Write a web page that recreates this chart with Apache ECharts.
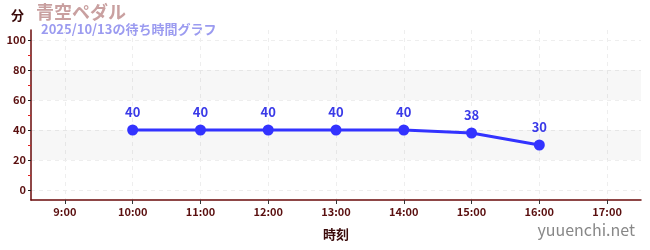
<!DOCTYPE html>
<html><head><meta charset="utf-8">
<script src="https://cdn.jsdelivr.net/npm/echarts@6/dist/echarts.min.js"></script>
<style>html,body{margin:0;padding:0;background:#fff}#c{width:650px;height:250px}</style>
</head><body><div id="c"></div>
<script>
const title = '青空ペダル';
const subtitle = '2025/10/13の待ち時間グラフ';
const hours = [10, 11, 12, 13, 14, 15, 16];
const waits = [40, 40, 40, 40, 40, 38, 30];
const xTicks = [9, 10, 11, 12, 13, 14, 15, 16, 17];
const yTicks = [0, 20, 40, 60, 80, 100];
const yMinorTicks = [10, 30, 50, 70, 90];
const bands = [[20, 40], [60, 80]];
const yName = '分';
const xName = '時刻';
const credit = 'yuuenchi.net';

const font = '"Noto Sans CJK JP","Noto Sans",sans-serif';
const axisColor = '#5a0f0f';
const chart = echarts.init(document.getElementById('c'));
chart.setOption({
  animation: false,
  textStyle: {fontFamily: font},
  grid: {left: 31, right: 9, top: 30, bottom: 50},
  graphic: [
    {type: 'text', left: 11, top: 9, style: {text: yName, font: 'bold 13px ' + font, fill: '#3a0a0a'}},
    {type: 'text', left: 36, top: 3, style: {text: title, font: 'bold 18px ' + font, fill: '#c9a0a0'}},
    {type: 'text', left: 41, top: 23, style: {text: subtitle, font: 'bold 13px ' + font, fill: '#9b9bf0'}},
    {type: 'text', right: 15, top: 222, style: {text: credit, font: '16px ' + font, fill: '#888'}}
  ],
  xAxis: {
    type: 'value', min: 8.5, max: 17.5,
    name: xName, nameLocation: 'middle', nameGap: 28,
    nameTextStyle: {color: '#3a0a0a', fontWeight: 'bold', fontSize: 13},
    axisLine: {show: true, onZero: false, lineStyle: {color: '#6a0a0a', width: 1.5}},
    axisTick: {show: true, customValues: xTicks, length: 4, lineStyle: {color: '#333'}},
    axisLabel: {customValues: xTicks, formatter: v => v + ':00', color: axisColor, fontSize: 11, fontWeight: 'bold', margin: 6},
    splitLine: {show: true, lineStyle: {color: '#eee', type: [4, 4]}}
  },
  yAxis: [{
    type: 'value', min: -6.67, max: 106.67,
    axisLine: {show: true, onZero: false, lineStyle: {color: '#6a0a0a', width: 1.5}},
    axisTick: {show: true, customValues: yTicks, length: 3, inside: false, lineStyle: {color: '#222'}},
    axisLabel: {customValues: yTicks, color: axisColor, fontSize: 11, fontWeight: 'bold', margin: 5},
    splitLine: {show: true, lineStyle: {color: '#eee', type: [4, 4]}}
  }, {
    type: 'value', min: -6.67, max: 106.67, position: 'left',
    axisLine: {show: false, onZero: false},
    axisTick: {show: true, customValues: yMinorTicks, length: 3, lineStyle: {color: '#e02020'}},
    axisLabel: {show: false, customValues: yMinorTicks},
    splitLine: {show: false}
  }],
  series: [{
    type: 'line',
    data: hours.map((h, i) => [h, waits[i]]),
    color: '#3333ff',
    lineStyle: {width: 3, color: '#3333ff'},
    symbol: 'circle', symbolSize: 11,
    itemStyle: {color: '#3333ff'},
    label: {show: true, position: 'top', distance: 6, color: '#3a3ae8', fontWeight: 'bold', fontSize: 13},
    markArea: {
      silent: true,
      itemStyle: {color: 'rgba(0,0,0,0.03)'},
      data: bands.map(b => [{yAxis: b[0]}, {yAxis: b[1]}])
    }
  }]
});
</script></body></html>
